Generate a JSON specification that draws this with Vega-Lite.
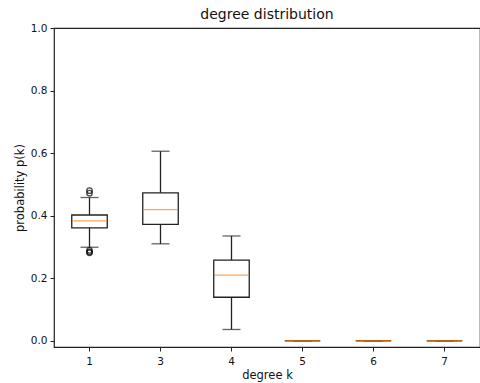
{
  "$schema": "https://vega.github.io/schema/vega-lite/v6.json",
  "width": 426,
  "height": 319,
  "autosize": {"type": "none"},
  "padding": {"left": 54, "top": 28, "right": 0, "bottom": 36},
  "background": "white",
  "title": {"text": "degree distribution", "fontSize": 14, "font": "DejaVu Sans", "fontWeight": "normal", "color": "#111", "offset": 1},
  "config": {
    "font": "DejaVu Sans",
    "view": {"stroke": "#222", "strokeWidth": 1.2},
    "axis": {"grid": false, "domainColor": "#222", "tickColor": "#222", "labelColor": "#111", "titleColor": "#111", "labelFont": "DejaVu Sans", "titleFont": "DejaVu Sans", "labelFontSize": 10.5, "titleFontSize": 11.5, "titleFontWeight": "normal", "tickSize": 4, "labelPadding": 3}
  },
  "datasets": {
    "stats": [
      {"k": "1", "lower": 0.299, "q1": 0.361, "median": 0.383, "q3": 0.402, "upper": 0.458},
      {"k": "3", "lower": 0.31, "q1": 0.372, "median": 0.419, "q3": 0.473, "upper": 0.606},
      {"k": "4", "lower": 0.036, "q1": 0.139, "median": 0.21, "q3": 0.258, "upper": 0.335},
      {"k": "5", "lower": 0.0, "q1": 0.0, "median": 0.0, "q3": 0.0, "upper": 0.0},
      {"k": "6", "lower": 0.0, "q1": 0.0, "median": 0.0, "q3": 0.0, "upper": 0.0},
      {"k": "7", "lower": 0.0, "q1": 0.0, "median": 0.0, "q3": 0.0, "upper": 0.0}
    ],
    "outliers": [
      {"k": "1", "p": 0.48},
      {"k": "1", "p": 0.472},
      {"k": "1", "p": 0.289},
      {"k": "1", "p": 0.284},
      {"k": "1", "p": 0.281}
    ]
  },
  "encoding": {
    "x": {"field": "k", "type": "ordinal", "sort": ["1", "3", "4", "5", "6", "7"],
      "scale": {"type": "band", "paddingInner": 0, "paddingOuter": 0},
      "axis": {"title": "degree k", "labelAngle": 0, "labelPadding": 5, "titlePadding": 3, "domain": false}}
  },
  "layer": [
    {
      "data": {"name": "stats"},
      "mark": {"type": "rule", "color": "#222", "strokeWidth": 1.3},
      "encoding": {
        "y": {"field": "lower", "type": "quantitative", "scale": {"domain": [-0.02, 1.0], "nice": false, "zero": false},
          "axis": {"title": "probability p(k)", "values": [0, 0.2, 0.4, 0.6, 0.8, 1.0], "format": ".1f", "titlePadding": 5, "domain": false}},
        "y2": {"field": "upper"}
      }
    },
    {
      "data": {"name": "stats"},
      "mark": {"type": "bar", "width": {"band": 0.5}, "fill": "white", "stroke": "#222", "strokeWidth": 1.3},
      "encoding": {
        "y": {"field": "q1", "type": "quantitative"},
        "y2": {"field": "q3"}
      }
    },
    {
      "data": {"name": "stats"},
      "mark": {"type": "tick", "orient": "horizontal", "size": 18, "thickness": 1.3, "color": "#222"},
      "encoding": {"y": {"field": "lower", "type": "quantitative"}}
    },
    {
      "data": {"name": "stats"},
      "mark": {"type": "tick", "orient": "horizontal", "size": 18, "thickness": 1.3, "color": "#222"},
      "encoding": {"y": {"field": "upper", "type": "quantitative"}}
    },
    {
      "data": {"name": "stats"},
      "mark": {"type": "tick", "orient": "horizontal", "size": 35, "thickness": 1.3, "color": "#ff7f0e"},
      "encoding": {"y": {"field": "median", "type": "quantitative"}}
    },
    {
      "data": {"name": "outliers"},
      "mark": {"type": "point", "shape": "circle", "filled": false, "stroke": "#000", "strokeWidth": 1.3, "size": 30},
      "encoding": {"y": {"field": "p", "type": "quantitative"}}
    }
  ]
}
